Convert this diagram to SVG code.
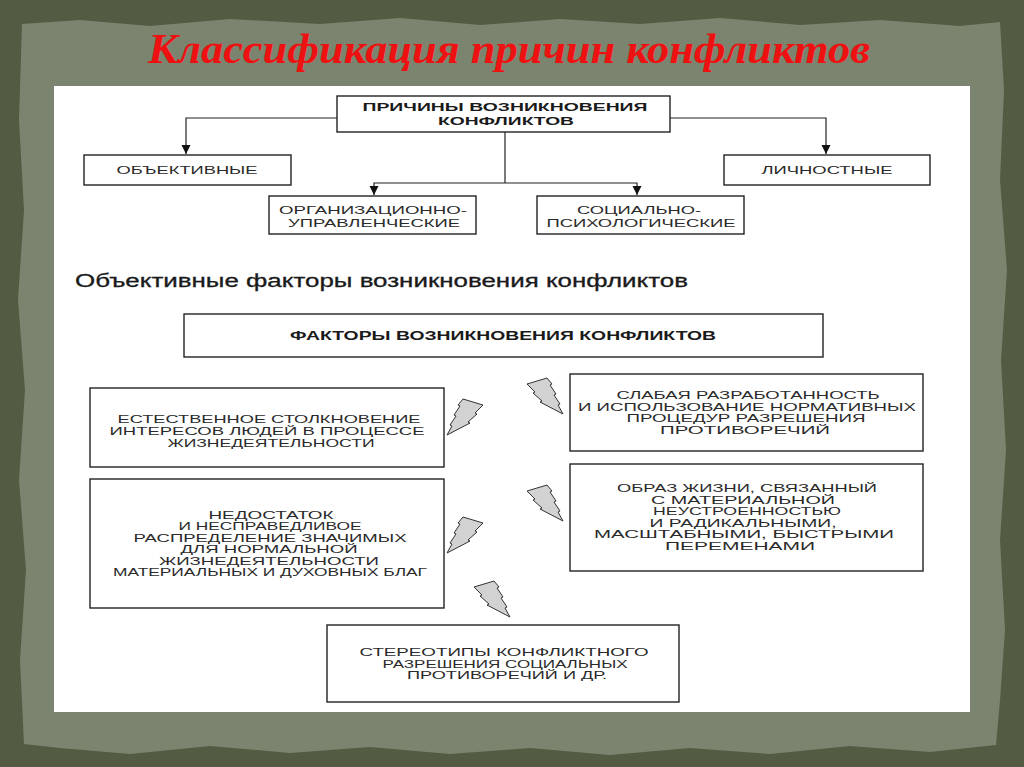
<svg xmlns="http://www.w3.org/2000/svg" width="1024" height="767" viewBox="0 0 1024 767">
<style>
.box{fill:#fff;stroke:#222;stroke-width:1.4}
.t{font-family:"Liberation Sans",Arial,sans-serif;fill:#2a2a2a;text-anchor:middle}
.s11{font-size:11.5px}
.s12{font-size:11px}
.b{font-weight:bold;fill:#1a1a1a}
.ln{fill:none;stroke:#222;stroke-width:1.2}
.bolt{fill:#d2d2d2;stroke:#333;stroke-width:1;stroke-linejoin:miter}
</style>
<defs>
<marker id="ah" markerWidth="10" markerHeight="10" refX="9" refY="5" orient="auto" markerUnits="userSpaceOnUse">
<path d="M0,0.5 L9,5 L0,9.5 Z" fill="#111"/>
</marker>
<path id="boltL" d="M16,0 L36,6 L28,14 L30,15 L21,23 L23,24 L0,36 L5,27 L3,26 L9,17 L7,16 L13,7 L11,6 Z"/>
</defs>
<g id="background">
<rect x="0" y="0" width="1024" height="767" fill="#535c43"/>
<path d="M22,24 L80,20 L150,26 L230,19 L320,24 L400,18 L480,25 L560,19 L640,24 L720,18 L800,25 L880,20 L960,26 L1000,22 L1004,90 L1000,180 L1007,270 L1001,360 L1006,450 L1000,540 L1005,630 L1000,700 L996,745 L930,752 L850,746 L770,754 L690,748 L610,755 L530,748 L450,754 L370,747 L290,753 L210,746 L130,754 L60,748 L24,744 L20,660 L26,570 L19,480 L25,390 L18,300 L24,210 L19,120 Z" fill="#7b846f"/>
</g>
<text x="509" y="63" font-family="'Liberation Serif','Times New Roman',serif" font-size="42" font-style="italic" font-weight="bold" fill="#ee1111" text-anchor="middle" textLength="722" lengthAdjust="spacingAndGlyphs">Классификация причин конфликтов</text>
<rect id="panel" x="54" y="86" width="916" height="626" fill="#fff"/>

<g id="connectors">
<path class="ln" d="M337,118 H186 V154" marker-end="url(#ah)"/>
<path class="ln" d="M670,118 H826 V154" marker-end="url(#ah)"/>
<path class="ln" d="M505,132 V183"/>
<path class="ln" d="M505,183 H374 V195" marker-end="url(#ah)"/>
<path class="ln" d="M505,183 H637 V195" marker-end="url(#ah)"/>
<g id="bolts">
<use href="#boltL" class="bolt" transform="translate(447,399)"/>
<use href="#boltL" class="bolt" transform="translate(447,517)"/>
<use href="#boltL" class="bolt" transform="translate(563,378) scale(-1,1)"/>
<use href="#boltL" class="bolt" transform="translate(563,485) scale(-1,1)"/>
<use href="#boltL" class="bolt" transform="translate(510,581) scale(-1,1)"/>
</g>
</g>

<g id="node-causes">
<rect class="box" x="337" y="96" width="333" height="36"/>
<text class="t s11 b" x="505" y="111" textLength="285" lengthAdjust="spacingAndGlyphs">ПРИЧИНЫ ВОЗНИКНОВЕНИЯ</text>
<text class="t s11 b" x="506" y="125" textLength="136" lengthAdjust="spacingAndGlyphs">КОНФЛИКТОВ</text>
</g>
<g id="node-objective">
<rect class="box" x="84" y="155" width="207" height="30"/>
<text class="t s11" x="187" y="174" textLength="141" lengthAdjust="spacingAndGlyphs">ОБЪЕКТИВНЫЕ</text>
</g>
<g id="node-personal">
<rect class="box" x="724" y="155" width="206" height="30"/>
<text class="t s11" x="827" y="174" textLength="131" lengthAdjust="spacingAndGlyphs">ЛИЧНОСТНЫЕ</text>
</g>
<g id="node-org">
<rect class="box" x="269" y="196" width="207" height="38"/>
<text class="t s11" x="373" y="214" textLength="188" lengthAdjust="spacingAndGlyphs">ОРГАНИЗАЦИОННО-</text>
<text class="t s11" x="374" y="227" textLength="172" lengthAdjust="spacingAndGlyphs">УПРАВЛЕНЧЕСКИЕ</text>
</g>
<g id="node-soc">
<rect class="box" x="537" y="196" width="207" height="38"/>
<text class="t s11" x="639" y="214" textLength="124" lengthAdjust="spacingAndGlyphs">СОЦИАЛЬНО-</text>
<text class="t s11" x="641" y="227" textLength="189" lengthAdjust="spacingAndGlyphs">ПСИХОЛОГИЧЕСКИЕ</text>
</g>

<text id="subheading" x="75" y="287" font-family="'Liberation Sans',Arial,sans-serif" font-size="18" fill="#1a1a1a" stroke="#1a1a1a" stroke-width="0.3" textLength="613" lengthAdjust="spacingAndGlyphs">Объективные факторы возникновения конфликтов</text>

<g id="node-factors">
<rect class="box" x="184" y="314" width="639" height="43"/>
<text class="t b" x="503" y="340" font-size="12" textLength="426" lengthAdjust="spacingAndGlyphs">ФАКТОРЫ ВОЗНИКНОВЕНИЯ КОНФЛИКТОВ</text>
</g>
<g id="node-natural">
<rect class="box" x="90" y="388" width="354" height="79"/>
<text class="t s12" x="269" y="422.5" textLength="303" lengthAdjust="spacingAndGlyphs">ЕСТЕСТВЕННОЕ СТОЛКНОВЕНИЕ</text>
<text class="t s12" x="267" y="434.5" textLength="315" lengthAdjust="spacingAndGlyphs">ИНТЕРЕСОВ ЛЮДЕЙ В ПРОЦЕССЕ</text>
<text class="t s12" x="271" y="446.5" textLength="207" lengthAdjust="spacingAndGlyphs">ЖИЗНЕДЕЯТЕЛЬНОСТИ</text>
</g>
<g id="node-shortage">
<rect class="box" x="90" y="479" width="354" height="129"/>
<text class="t s12" x="271" y="518.5" textLength="125" lengthAdjust="spacingAndGlyphs">НЕДОСТАТОК</text>
<text class="t s12" x="270" y="530" textLength="183" lengthAdjust="spacingAndGlyphs">И НЕСПРАВЕДЛИВОЕ</text>
<text class="t s12" x="270" y="541.5" textLength="273" lengthAdjust="spacingAndGlyphs">РАСПРЕДЕЛЕНИЕ ЗНАЧИМЫХ</text>
<text class="t s12" x="269" y="553" textLength="177" lengthAdjust="spacingAndGlyphs">ДЛЯ НОРМАЛЬНОЙ</text>
<text class="t s12" x="269" y="564.5" textLength="220" lengthAdjust="spacingAndGlyphs">ЖИЗНЕДЕЯТЕЛЬНОСТИ</text>
<text class="t s12" x="270" y="576" textLength="314" lengthAdjust="spacingAndGlyphs">МАТЕРИАЛЬНЫХ И ДУХОВНЫХ БЛАГ</text>
</g>
<g id="node-weak">
<rect class="box" x="570" y="374" width="353" height="77"/>
<text class="t s12" x="748" y="399" textLength="263" lengthAdjust="spacingAndGlyphs">СЛАБАЯ РАЗРАБОТАННОСТЬ</text>
<text class="t s12" x="747" y="410.5" textLength="338" lengthAdjust="spacingAndGlyphs">И ИСПОЛЬЗОВАНИЕ НОРМАТИВНЫХ</text>
<text class="t s12" x="746" y="422" textLength="239" lengthAdjust="spacingAndGlyphs">ПРОЦЕДУР РАЗРЕШЕНИЯ</text>
<text class="t s12" x="745" y="433.5" textLength="170" lengthAdjust="spacingAndGlyphs">ПРОТИВОРЕЧИЙ</text>
</g>
<g id="node-lifestyle">
<rect class="box" x="570" y="464" width="353" height="107"/>
<text class="t s12" x="747" y="492" textLength="260" lengthAdjust="spacingAndGlyphs">ОБРАЗ ЖИЗНИ, СВЯЗАННЫЙ</text>
<text class="t s12" x="743" y="503.5" textLength="184" lengthAdjust="spacingAndGlyphs">С МАТЕРИАЛЬНОЙ</text>
<text class="t s12" x="747" y="515" textLength="188" lengthAdjust="spacingAndGlyphs">НЕУСТРОЕННОСТЬЮ</text>
<text class="t s12" x="743" y="526.5" textLength="187" lengthAdjust="spacingAndGlyphs">И РАДИКАЛЬНЫМИ,</text>
<text class="t s12" x="744" y="538" textLength="300" lengthAdjust="spacingAndGlyphs">МАСШТАБНЫМИ, БЫСТРЫМИ</text>
<text class="t s12" x="740" y="549.5" textLength="150" lengthAdjust="spacingAndGlyphs">ПЕРЕМЕНАМИ</text>
</g>
<g id="node-stereotypes">
<rect class="box" x="327" y="625" width="352" height="77"/>
<text class="t s12" x="504" y="655.5" textLength="289" lengthAdjust="spacingAndGlyphs">СТЕРЕОТИПЫ КОНФЛИКТНОГО</text>
<text class="t s12" x="505" y="667.5" textLength="245" lengthAdjust="spacingAndGlyphs">РАЗРЕШЕНИЯ СОЦИАЛЬНЫХ</text>
<text class="t s12" x="507" y="679" textLength="200" lengthAdjust="spacingAndGlyphs">ПРОТИВОРЕЧИЙ И ДР.</text>
</g>
</svg>
